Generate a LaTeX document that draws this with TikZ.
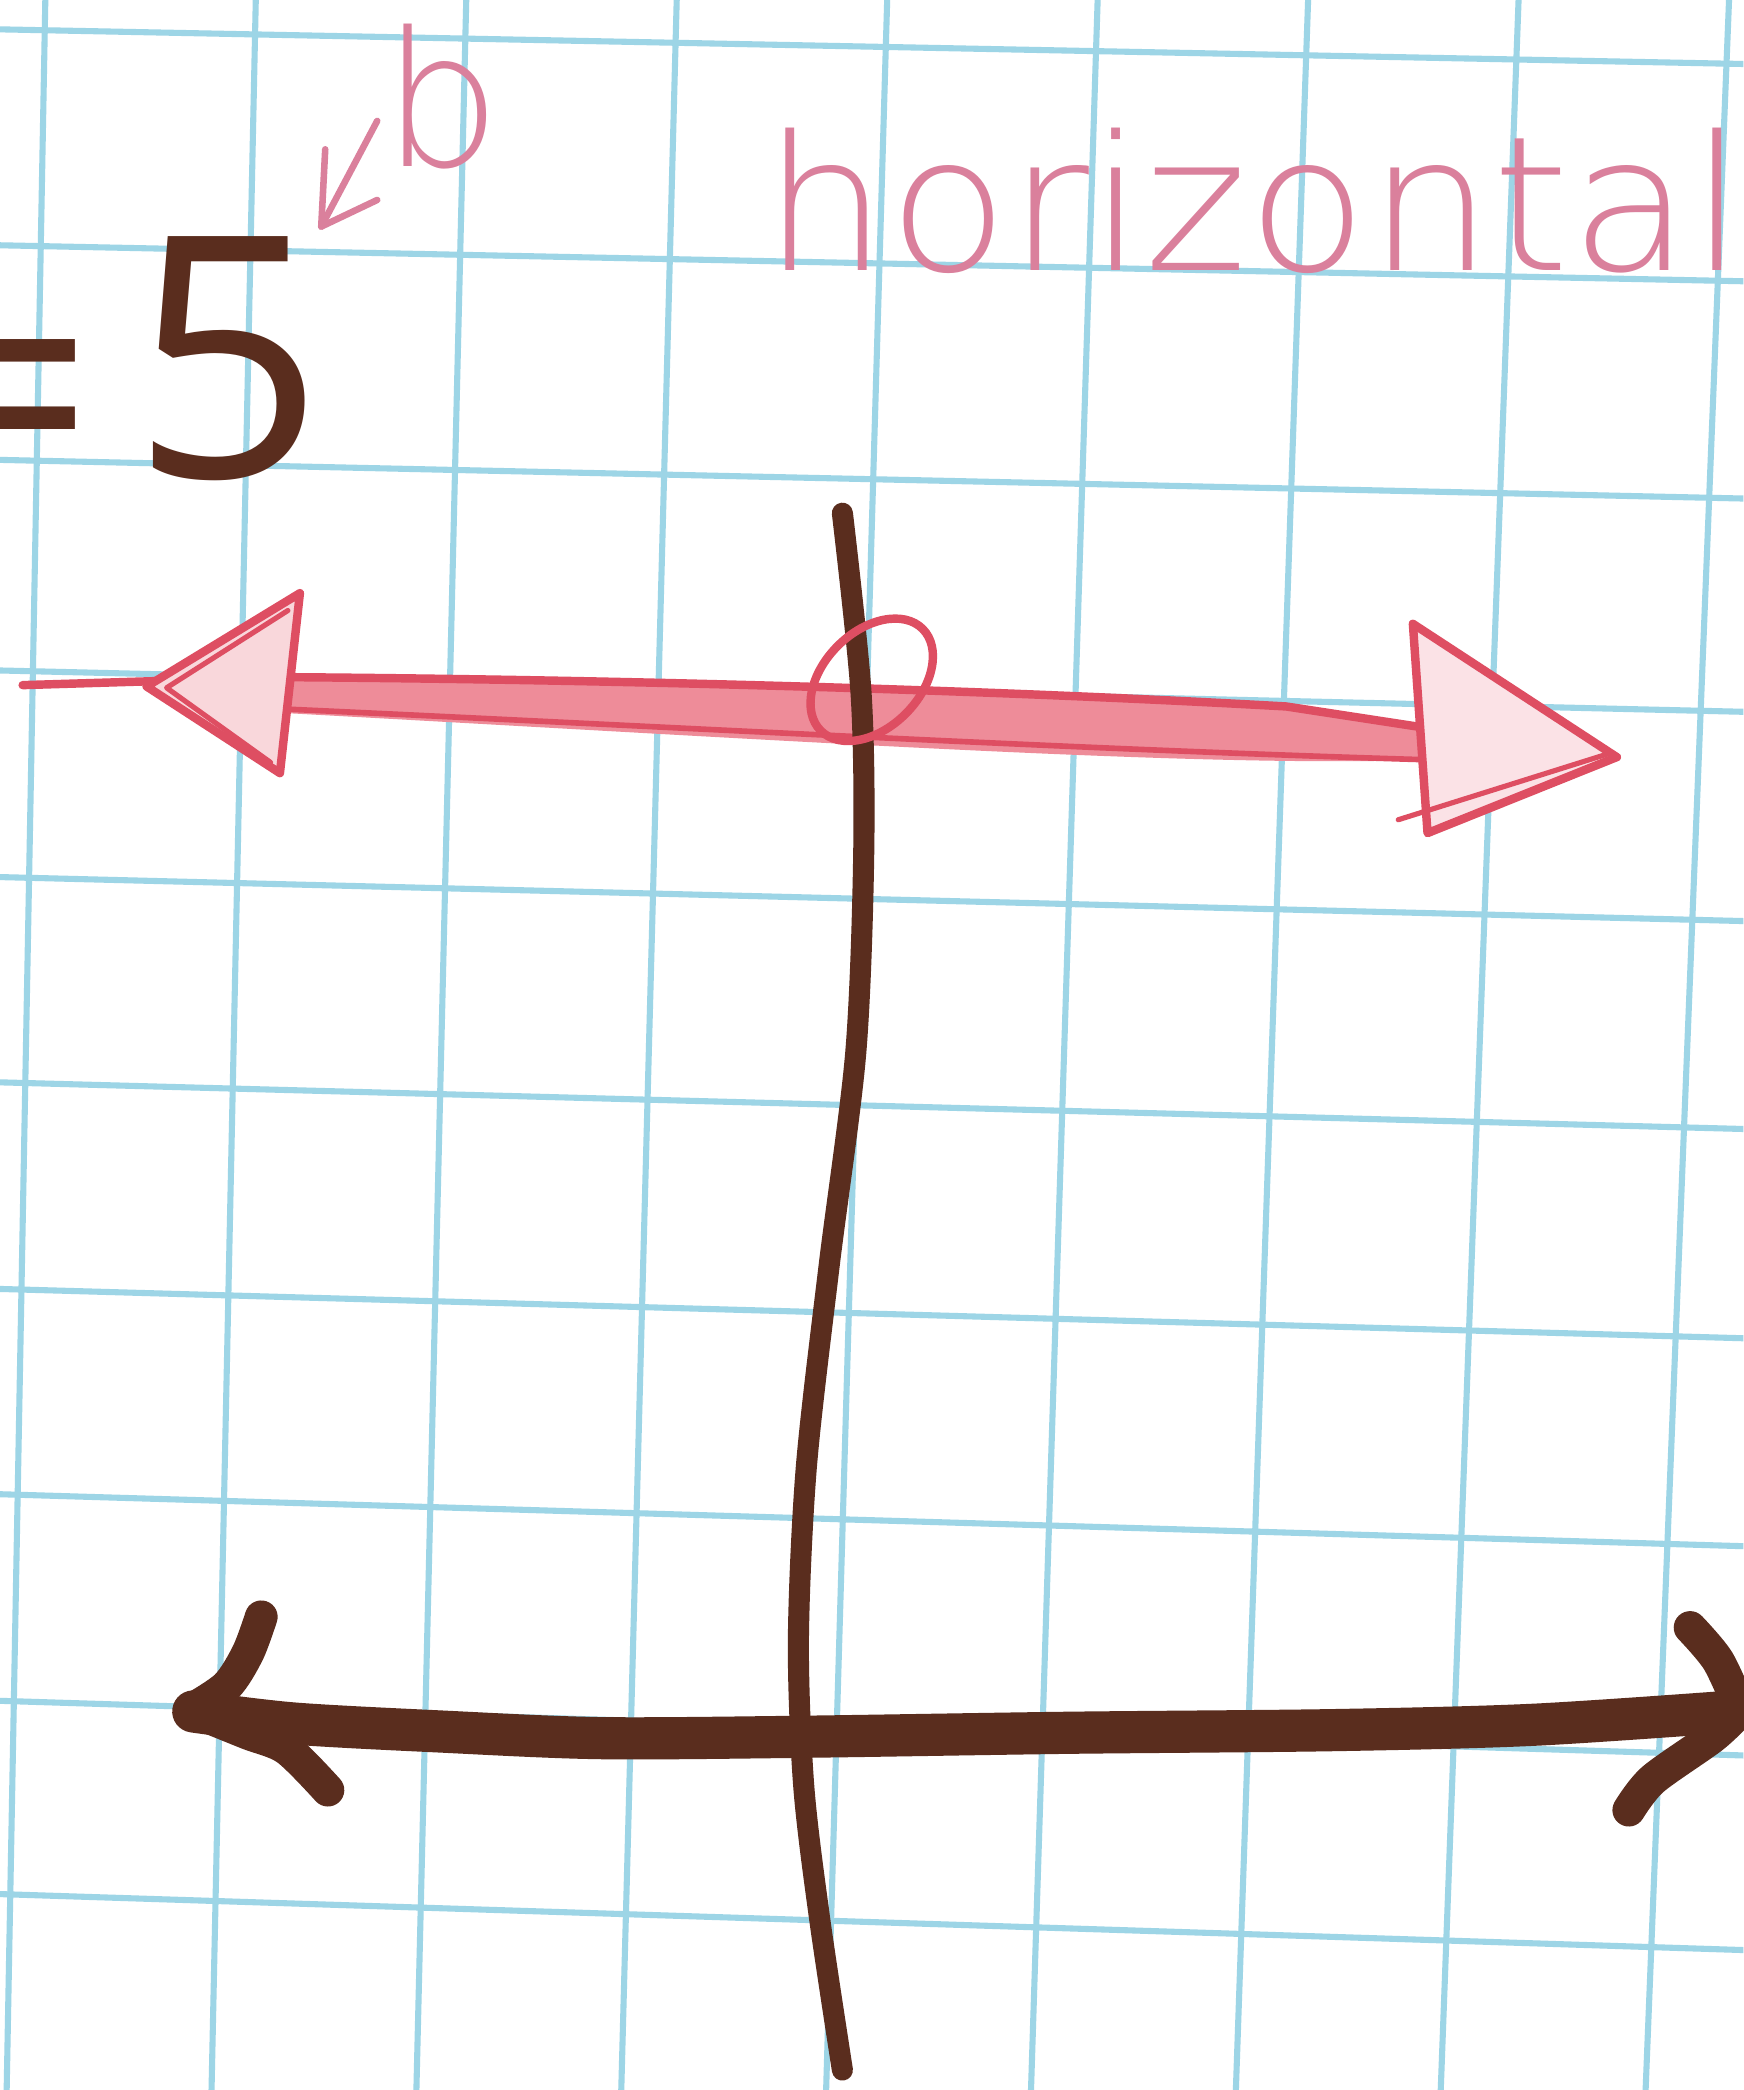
\documentclass[tikz,border=0pt]{standalone}
\usepackage{fontspec}
\setmainfont{Open Sans}
\newfontfamily\handfont{DejaVu Sans ExtraLight}
\usepackage{xcolor}
\usepackage{tikz}

\definecolor{gridblue}{HTML}{9DD5E6}
\definecolor{markerbrown}{HTML}{5A2D1E}
\definecolor{pencilred}{HTML}{DE4E62}
\definecolor{pencilpink}{HTML}{EE8C99}
\definecolor{inkpink}{HTML}{DA809C}

\begin{document}
\begin{tikzpicture}[x=0.01cm, y=-0.01cm,
    gridline/.style={gridblue, line width=1.3pt},
    marker/.style={markerbrown, line cap=round, line join=round},
    pencil/.style={pencilred, line width=1.8pt, line cap=round, line join=round},
    inklabel/.style={inkpink, inner sep=0pt}]

    % --- Paper ---
    \fill[white] (0,0) rectangle (1308,1568);
    \useasboundingbox (0,0) rectangle (1308,1568);

    % --- Graph paper grid (photographed, slightly skewed) ---
    \begin{scope}
        \clip (0,0) rectangle (1308,1568);
        \foreach \k in {0,...,8} {
            \draw[gridline] ({34+157.9*\k},0) -- ({5+153.7*\k},1568);
        }
        \foreach \yl/\yr in {22/48,184/211,345/374,503/534,658/691,812/847,967/1004,1121/1160,1276/1317,1421/1463} {
            \draw[gridline] (0,\yl) -- (1308,\yr);
        }
    \end{scope}

    % --- Red line y = 5 ---
    \fill[pencilpink] (215,508) .. controls (480,510) and (750,518) .. (965,530) -- (1071,546) -- (1071,570) .. controls (900,576) and (600,556) .. (215,535) -- cycle;
    \draw[pencil] (17,514) -- (215,508) .. controls (480,510) and (750,518) .. (965,530) -- (1213,568);
    \draw[pencil, line width=1.2pt] (215,532) .. controls (500,545) and (800,562) .. (1071,570);

    % arrowheads on the red line
    \draw[pencil, fill=pencilpink!35] (225,445) -- (110,515) -- (210,580) -- cycle;
    \draw[pencil, line width=1.1pt] (216,458) -- (125,516) -- (203,572);
    \draw[pencil, fill=pencilpink!25] (1060,468) -- (1213,568) -- (1071,625) -- cycle;
    \draw[pencil, line width=1.1pt] (1049,615) -- (1205,566);

    % --- Brown y-axis ---
    \draw[marker, line width=4.5pt] plot[smooth] coordinates {(632,385) (646,520) (648,640) (642,790) (622,950) (605,1100) (599,1230) (603,1340) (615,1440) (632,1553)};

    % open circle at the y-intercept
    \draw[pencil, rotate around={45:(654,510)}] (654,510) ellipse [x radius=0.54cm, y radius=0.36cm];

    % --- Brown x-axis ---
    \draw[marker, line width=9pt] plot[smooth] coordinates {(145,1284) (220,1293) (330,1299) (450,1304) (600,1303) (800,1300) (1000,1298) (1150,1294) (1300,1284)};
    \draw[marker, line width=7pt] plot[smooth] coordinates {(196,1213) (186,1240) (170,1265) (143,1283)};
    \draw[marker, line width=7pt] plot[smooth] coordinates {(143,1283) (185,1300) (215,1312) (246,1343)};
    \draw[marker, line width=7pt] plot[smooth] coordinates {(1268,1221) (1289,1246) (1306,1283)};
    \draw[marker, line width=7pt] plot[smooth] coordinates {(1306,1283) (1285,1303) (1240,1335) (1222,1358)};

    % --- Labels ---
    \node[marker, inner sep=0pt, anchor=base east, font=\fontsize{72}{72}\selectfont] (eq) at (72,378) {=};
    \node[marker, inner sep=0pt, anchor=base west, font=\fontsize{72}{72}\selectfont] (five) at (98,358) {5};

    \node[inklabel, anchor=base west, font=\fontsize{40}{40}\selectfont\handfont] (b) at (286,125) {b};
    \coordinate (btip) at (241,170);
    \draw[pencil, inkpink, line width=1.4pt] ([shift={(-3,-37)}]b.south west) -- (btip);
    \draw[pencil, inkpink, line width=1.4pt] ([shift={(3,-58)}]btip) -- (btip) -- ([shift={(42,-20)}]btip);

    \node[inklabel, anchor=base west, font=\fontsize{40}{40}\selectfont\handfont] (horiz) at (572,203) {\scalebox{1.05}[1]{horizontal}};
\end{tikzpicture}
\end{document}
